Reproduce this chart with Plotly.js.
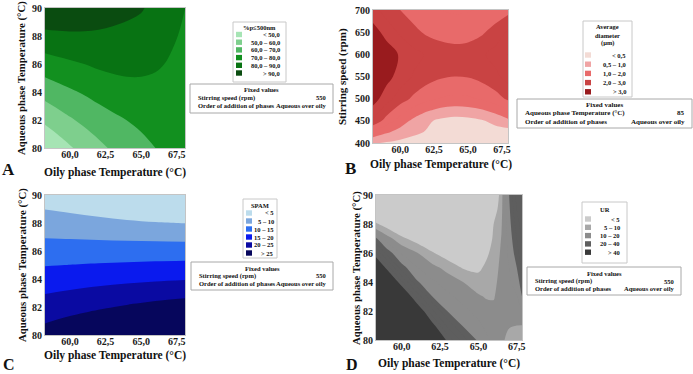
<!DOCTYPE html>
<html><head><meta charset="utf-8">
<script src="https://cdn.plot.ly/plotly-3.0.1.min.js"></script>
<style>html,body{margin:0;padding:0;background:#fff}#chart{width:693px;height:374px}</style>
</head><body><div id="chart"></div>
<script>
// ---------- shared axis ticks ----------
const xTickVals = [60, 62.5, 65, 67.5];
const xTickText = ["60,0", "62,5", "65,0", "67,5"];
const tempTickVals = [80, 82, 84, 86, 88, 90];
const speedTickVals = [400, 450, 500, 550, 600, 650, 700];

// ---------- Panel A : %p<=500nm ----------
const xA = [58, 59, 60, 61, 62, 63, 64, 65, 66, 67, 68.1];
const yA = [80, 82, 84, 86, 88, 90];
const zA = [
  [39.0, 44.2, 49.0, 53.5, 57.6, 61.3, 64.6, 67.5, 70.0, 72.2, 74.0],
  [51.0, 55.1, 58.9, 62.2, 65.2, 67.9, 70.1, 71.9, 73.4, 74.5, 75.2],
  [63.0, 66.1, 68.7, 71.0, 73.5, 75.5, 77.0, 77.6, 77.6, 77.0, 76.4],
  [75.0, 77.0, 78.6, 80.0, 81.6, 82.4, 82.5, 82.0, 81.0, 79.4, 77.6],
  [87.0, 87.9, 88.4, 88.5, 88.3, 87.7, 87.5, 85.3, 83.5, 81.3, 78.8],
  [99.0, 98.8, 98.2, 97.3, 96.0, 94.3, 92.2, 91.0, 86.8, 83.6, 80.0]
];
const breaksA = [50, 60, 70, 80, 90];
const labelsA = ["< 50,0", "50,0 – 60,0", "60,0 – 70,0", "70,0 – 80,0", "80,0 – 90,0", "> 90,0"];
const colorsA = ["#a6e4b4", "#7ecf8d", "#50b763", "#12901f", "#087313", "#0a4c10"];

// ---------- Panel B : Average diameter ----------
const xB = [58, 59, 60, 61, 62, 63, 64, 65, 66, 67, 68];
const yB = [400, 425, 450, 475, 500, 550, 600, 650, 700];
const zB = [
  [0.55, 0.45, 0.36, 0.29, 0.24, 0.21, 0.20, 0.20, 0.21, 0.23, 0.25],
  [1.40, 1.08, 0.82, 0.61, 0.46, 0.36, 0.32, 0.32, 0.32, 0.31, 0.30],
  [2.40, 1.78, 1.27, 0.87, 0.58, 0.40, 0.32, 0.35, 0.45, 0.64, 0.90],
  [2.85, 2.25, 1.75, 1.36, 1.08, 0.90, 0.82, 0.85, 0.97, 1.19, 1.50],
  [3.25, 2.70, 2.25, 1.89, 1.63, 1.47, 1.40, 1.43, 1.56, 1.78, 2.10],
  [3.70, 3.20, 2.78, 2.45, 2.21, 2.06, 2.00, 2.03, 2.16, 2.38, 2.70],
  [3.75, 3.30, 2.94, 2.65, 2.44, 2.31, 2.25, 2.28, 2.42, 2.67, 3.02],
  [3.25, 2.80, 2.42, 2.13, 1.91, 1.78, 1.72, 1.76, 1.92, 2.20, 2.60],
  [2.65, 2.29, 2.00, 1.77, 1.60, 1.50, 1.45, 1.47, 1.54, 1.67, 1.85]
];
const breaksB = [0.5, 1, 2, 3];
const labelsB = ["< 0,5", "0,5 – 1,0", "1,0 – 2,0", "2,0 – 3,0", "> 3,0"];
const colorsB = ["#f3dbd5", "#f0a4a4", "#e86a6a", "#c94343", "#991b1e"];

// ---------- Panel C : SPAM ----------
const xC = [58, 60, 62, 64, 66, 68.1];
const yC = [80, 81, 82, 83, 84, 85, 86, 87, 88, 89, 90];
const zC = [
  [26.76, 28.61, 30.36, 32.07, 33.64, 35.00],
  [24.41, 25.94, 27.38, 28.78, 30.07, 31.18],
  [22.07, 23.26, 24.40, 25.49, 26.50, 27.37],
  [19.70, 20.59, 21.43, 22.20, 22.93, 23.55],
  [17.23, 17.83, 18.41, 18.92, 19.37, 19.75],
  [14.75, 15.06, 15.37, 15.65, 15.90, 16.12],
  [12.28, 12.32, 12.37, 12.40, 12.43, 12.46],
  [9.81, 9.60, 9.37, 9.12, 8.91, 8.74],
  [7.40, 6.93, 6.36, 5.74, 5.26, 4.92],
  [5.00, 4.25, 3.34, 2.37, 1.61, 1.11],
  [2.60, 1.58, 0.33, -1.01, -2.04, -2.71]
];
const breaksC = [5, 10, 15, 20, 25];
const labelsC = ["< 5", "5 – 10", "10 – 15", "15 – 20", "20 – 25", "> 25"];
const colorsC = ["#bcdcec", "#7ba6dd", "#2d6ef0", "#0a1aee", "#0a0aa2", "#06065c"];

// ---------- Panel D : UR ----------
const xD = [58, 59, 60, 61, 62, 63, 64, 65, 65.5, 66, 66.5, 67, 67.5, 68];
const yD = [80, 81, 82, 83, 84, 85, 86, 87, 88, 89, 90];
const zD = [
  [115, 104, 90, 72, 55, 38, 27.8, 18.8, 16.2, 13.6, 11.0, 8.5, 8.0, 7.5],
  [105, 92, 78, 60, 42.4, 28.5, 19.4, 16.05, 13.99, 12.3, 11.3, 10.4, 10.0, 9.9],
  [95, 80, 65, 47, 31.1, 19.65, 16.3, 13.3, 11.77, 10.9, 11.6, 12.0, 12.3, 16.1],
  [84, 68, 50.5, 33.5, 20, 16.15, 13.2, 10.55, 9.64, 9.72, 11.8, 13.2, 14.6, 22.4],
  [72, 53.5, 35.9, 20.6, 15.83, 12.65, 10, 7.33, 7.86, 8.8, 11.7, 14.2, 17.1, 26],
  [58, 38.5, 22.1, 15.25, 11.5, 8.3, 4.5, 3.8, 6.07, 7.87, 11.3, 15.1, 20.0, 29],
  [41.7, 23.7, 14.3, 10.25, 5.5, 1.8, -1.5, -0.2, 3.8, 6.94, 10.8, 16.0, 22.5, 31.5],
  [25, 12.5, 6.28, 2.4, -0.9, -4.2, -7.5, -4.2, 0.8, 6.0, 10.2, 16.9, 25, 33.5],
  [7.56, 2.4, -2, -3.6, -6.9, -10.2, -13.5, -8.2, -2.2, 5.1, 9.6, 17.9, 27.5, 35],
  [-3, -5.6, -10, -9.6, -12.9, -16.2, -19.5, -12.2, -5.2, 1.4, 9.0, 18.9, 30, 36.5],
  [-12, -13.6, -18, -15.6, -18.9, -22.2, -25.5, -16.2, -8.2, -2.6, 8.5, 20.0, 32, 38]
];
const breaksD = [5, 10, 20, 40];
const labelsD = ["< 5", "5 – 10", "10 – 20", "20 – 40", "> 40"];
const colorsD = ["#cbcbcb", "#a8a8a8", "#8c8c8c", "#5e5e5e", "#393939"];

// ---------- helpers ----------
const W = 693, H = 374;
const px = v => v / W;
const py = v => 1 - v / H;
const SERIF = "Liberation Serif, Times New Roman, serif";

// discrete colourscale for filled contours with a uniform contour step
function bandScale(breaks, colors, start, end, step) {
  const nc = Math.round((end - start) / step) + 1;
  const scale = [];
  for (let k = 0; k <= nc; k++) {
    let idx = 0;
    if (k > 0) {
      const lower = start + (k - 1) * step;
      idx = breaks.filter(b => b <= lower + 1e-9).length;
    }
    scale.push([k / nc, colors[idx]]);
  }
  return scale;
}

function contourTrace(x, y, z, breaks, colors, step, xa, ya) {
  const start = breaks[0], end = breaks[breaks.length - 1];
  return {
    type: "contour", x: x, y: y, z: z, xaxis: xa, yaxis: ya,
    autocontour: false,
    contours: {start: start, end: end, size: step, coloring: "fill", showlines: false},
    line: {width: 0, smoothing: 1},
    colorscale: bandScale(breaks, colors, start, end, step),
    showscale: false, hoverinfo: "skip"
  };
}

const data = [
  contourTrace(xA, yA, zA, breaksA, colorsA, 10, "x", "y"),
  contourTrace(xB, yB, zB, breaksB, colorsB, 0.5, "x2", "y2"),
  contourTrace(xC, yC, zC, breaksC, colorsC, 5, "x3", "y3"),
  contourTrace(xD, yD, zD, breaksD, colorsD, 5, "x4", "y4")
];

const tickFont = {family: SERIF, size: 10, color: "#1a1a1a", weight: "bold"};
function xAxis(l, r, range, anchor) {
  return {domain: [px(l), px(r)], range: range, anchor: anchor,
    tickvals: xTickVals, ticktext: xTickText, tickfont: tickFont, ticklabelstandoff: -3,
    showgrid: false, zeroline: false, showline: true, mirror: true,
    linecolor: "#c4c4c4", linewidth: 1, ticks: "", fixedrange: true};
}
function yAxis(t, b, range, anchor, vals) {
  return {domain: [py(b), py(t)], range: range, anchor: anchor,
    tickvals: vals, tickfont: tickFont,
    showgrid: false, zeroline: false, showline: true, mirror: true,
    linecolor: "#c4c4c4", linewidth: 1, ticks: "", fixedrange: true};
}

const annotations = [];
const shapes = [];
function txt(x, y, text, size, opts) {
  annotations.push(Object.assign({
    x: px(x), y: py(y), xref: "paper", yref: "paper", text: text, showarrow: false,
    xanchor: "center", yanchor: "middle",
    font: {family: SERIF, size: size, color: "#111", weight: "bold"}
  }, opts || {}));
}
function box(x0, y0, x1, y1, color) {
  shapes.push({type: "rect", xref: "paper", yref: "paper",
    x0: px(x0), x1: px(x1), y0: py(y1), y1: py(y0),
    line: {color: color, width: 1}, fillcolor: "#ffffff"});
}

// panel letters
txt(8, 169, "A", 17);
txt(351, 168, "B", 17);
txt(9, 364, "C", 16);
txt(352, 364, "D", 16);

// axis titles
const oily = "Oily phase Temperature (°C)";
const aqueous = "Aqueous phase Temperature (°C)";
txt(115, 172, oily, 11.5);
txt(22, 78, aqueous, 10.8, {textangle: -90});
txt(441, 164, oily, 11.5);
txt(343, 77, "Stirring speed (rpm)", 11, {textangle: -90});
txt(115, 355.5, oily, 11.5);
txt(22, 265, aqueous, 10.8, {textangle: -90});
txt(449, 363, oily, 11.5);
txt(356, 268, aqueous, 10.8, {textangle: -90});

// legends
function legend(bx, titleLines, titleY0, titleStep, labels, colors, rowY0, rowStep, sqX, labelRight) {
  box(bx[0], bx[1], bx[2], bx[3], "#c8c8c8");
  const cx = (bx[0] + bx[2]) / 2;
  titleLines.forEach((t, i) => txt(cx, titleY0 + i * titleStep, t, 6.5));
  labels.forEach((lab, i) => {
    const yy = rowY0 + i * rowStep;
    shapes.push({type: "rect", xref: "paper", yref: "paper",
      x0: px(sqX), x1: px(sqX + 6), y0: py(yy + 2.7), y1: py(yy - 2.7),
      line: {width: 0}, fillcolor: colors[i]});
    txt(labelRight, yy, lab, 6.5, {xanchor: "right"});
  });
}
legend([233, 22, 286, 82], ["%p≤500nm"], 27.5, 8, labelsA, colorsA, 34.5, 7.7, 236, 282);
legend([583, 21, 632, 97], ["Average", "diameter", "(µm)"], 27, 8, labelsB, colorsB, 55, 9.2, 585, 628);
legend([243, 199, 277, 258], ["SPAM"], 205, 8, labelsC, colorsC, 213, 8, 246, 276);
legend([582, 202, 627, 263], ["UR"], 209, 8, labelsD, colorsD, 219, 8.3, 585, 622);

// fixed value boxes
function fixedBox(bx, rows, size, titleY, rowY0, rowStep) {
  box(bx[0], bx[1], bx[2], bx[3], "#a8a8a8");
  txt((bx[0] + bx[2]) / 2, titleY, "Fixed values", size);
  rows.forEach((r, i) => {
    const yy = rowY0 + i * rowStep;
    txt(bx[0] + 6, yy, r[0], size, {xanchor: "left"});
    txt(bx[2] - 5, yy, r[1], size, {xanchor: "right"});
  });
}
const fixedStir = [["Stirring speed (rpm)", "550"], ["Order of addition of phases", "Aqueous over oily"]];
const fixedAq = [["Aqueous phase Temperature (°C)", "85"], ["Order of addition of phases", "Aqueous over oily"]];
fixedBox([190, 84, 333, 113], fixedStir, 6.5, 90, 98, 7.5);
fixedBox([517, 99, 692, 128], fixedAq, 7, 104.5, 113, 9);
fixedBox([191, 262, 333, 290], fixedStir, 6.5, 268, 275.5, 7.5);
fixedBox([527, 267, 681, 295], fixedStir, 6.5, 273, 281, 7.5);

const layout = {
  width: W, height: H, margin: {l: 0, r: 0, t: 0, b: 0},
  paper_bgcolor: "#ffffff", plot_bgcolor: "#ffffff", showlegend: false,
  xaxis: xAxis(45, 185, [58.24, 68.08], "y"),
  yaxis: yAxis(8, 148, [80, 90], "x", tempTickVals),
  xaxis2: xAxis(373, 508, [58, 67.95], "y2"),
  yaxis2: yAxis(10, 143, [400, 700], "x2", speedTickVals),
  xaxis3: xAxis(45, 185, [58.24, 68.08], "y3"),
  yaxis3: yAxis(195, 335, [80, 90], "x3", tempTickVals),
  xaxis4: xAxis(376, 522, [58.33, 67.84], "y4"),
  yaxis4: yAxis(195, 340, [80, 90], "x4", tempTickVals),
  annotations: annotations, shapes: shapes
};

Plotly.newPlot("chart", data, layout, {staticPlot: true, displayModeBar: false});
</script></body></html>
